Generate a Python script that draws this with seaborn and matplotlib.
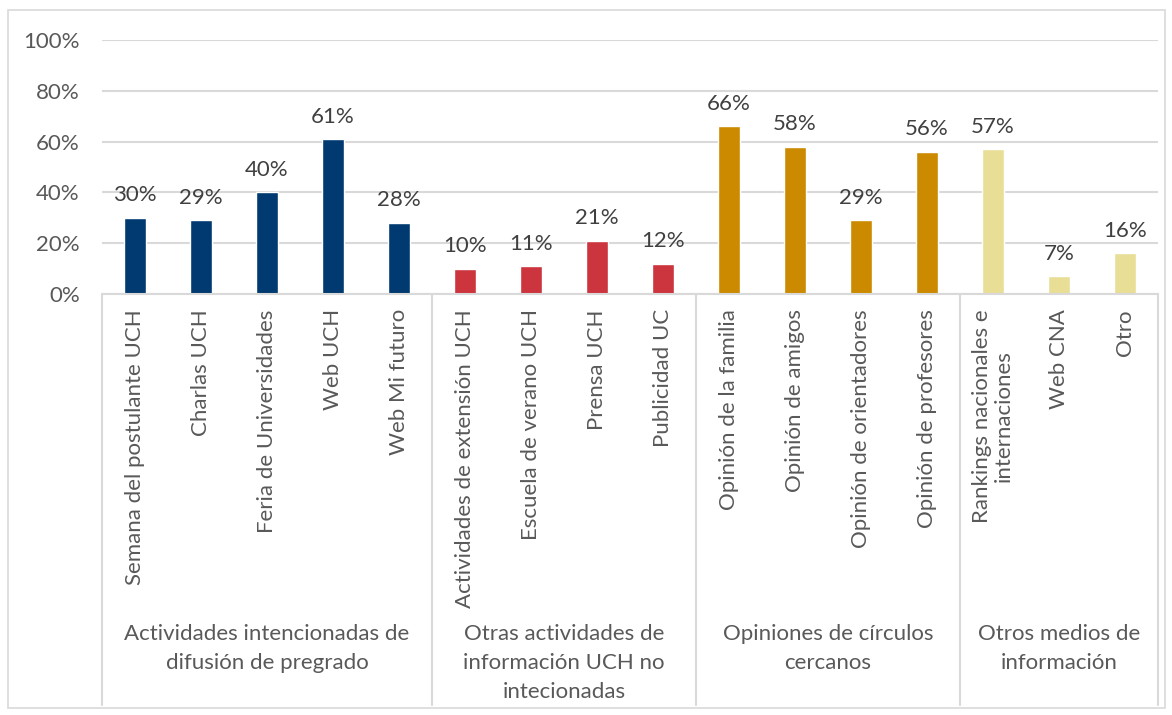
import pandas as pd
import seaborn as sns
import matplotlib.pyplot as plt
from matplotlib.patches import Rectangle
from matplotlib.transforms import blended_transform_factory

groups = [
    "Actividades intencionadas de\ndifusión de pregrado",
    "Otras actividades de\ninformación UCH no\nintecionadas",
    "Opiniones de círculos\ncercanos",
    "Otros medios de\ninformación",
]
items = [
    ["Semana del postulante UCH", "Charlas UCH", "Feria de Universidades", "Web UCH", "Web Mi futuro"],
    ["Actividades de extensión UCH", "Escuela de verano UCH", "Prensa UCH", "Publicidad UC"],
    ["Opinión de la familia", "Opinión de amigos", "Opinión de orientadores", "Opinión de profesores"],
    ["Rankings nacionales e\ninternaciones", "Web CNA", "Otro"],
]
values = [
    [0.30, 0.29, 0.40, 0.61, 0.28],
    [0.10, 0.11, 0.21, 0.12],
    [0.66, 0.58, 0.29, 0.56],
    [0.57, 0.07, 0.16],
]
colors = ["#003A70", "#CC343E", "#CC8A00", "#E8DE96"]

rows = []
for g, its, vals in zip(groups, items, values):
    for it, v in zip(its, vals):
        rows.append({"group": g, "item": it, "value": v})
df = pd.DataFrame(rows)

sns.set_theme(style="white")
plt.rcParams["font.family"] = ["Lato", "DejaVu Sans"]
txt = "#595959"
fs = 16

W, H = 1172, 715
fig = plt.figure(figsize=(W / 100, H / 100), dpi=100)
fig.patches.append(Rectangle((8 / W, 1 - 708 / H), 1157 / W, 698 / H, transform=fig.transFigure,
                             fill=False, edgecolor="#D9D9D9", lw=1.2))
ax = fig.add_axes([102 / W, 1 - 294 / H, 1056 / W, 254 / H])

sns.barplot(data=df, x="item", y="value", hue="group", palette=colors, dodge=False,
            width=0.32, legend=False, ax=ax, order=df["item"].tolist(), saturation=1)

for c in ax.containers:
    ax.bar_label(c, labels=[f"{v * 100:.0f}%" if v == v else "" for v in c.datavalues],
                 padding=9, fontsize=fs, color="#404040")

ax.set_ylim(0, 1)
ax.set_xlim(-0.5, len(df) - 0.5)
ax.set_yticks([0, 0.2, 0.4, 0.6, 0.8, 1.0])
ax.set_yticklabels([f"{int(t * 100)}%" for t in ax.get_yticks()], fontsize=fs, color=txt)
ax.tick_params(axis="y", length=0, pad=16)
ax.yaxis.grid(True, color="#D9D9D9", lw=1.5)
ax.set_axisbelow(True)
ax.set_xticks([])
ax.set_xlabel("")
ax.set_ylabel("")
for s in ["top", "right", "left"]:
    ax.spines[s].set_visible(False)
ax.spines["bottom"].set_color("#D9D9D9")
ax.spines["bottom"].set_linewidth(1.5)

tr = blended_transform_factory(ax.transData, ax.transAxes)
for i, it in enumerate(df["item"]):
    ax.text(i, -0.06, it, rotation=90, ha="center", va="top", fontsize=fs,
            color=txt, transform=tr, multialignment="center", linespacing=1.1)

bottom = -1.62
start = 0
for g, its in zip(groups, items):
    end = start + len(its)
    ax.plot([start - 0.5, start - 0.5], [0, bottom], transform=tr, color="#D9D9D9",
            lw=1.5, clip_on=False)
    ax.text((start + end - 1) / 2, -1.30, g, ha="center", va="top", fontsize=fs,
            color=txt, transform=tr, linespacing=1.55)
    start = end
ax.plot([start - 0.5, start - 0.5], [0, bottom], transform=tr, color="#D9D9D9",
        lw=1.5, clip_on=False)

fig.savefig("out.png", dpi=100)
